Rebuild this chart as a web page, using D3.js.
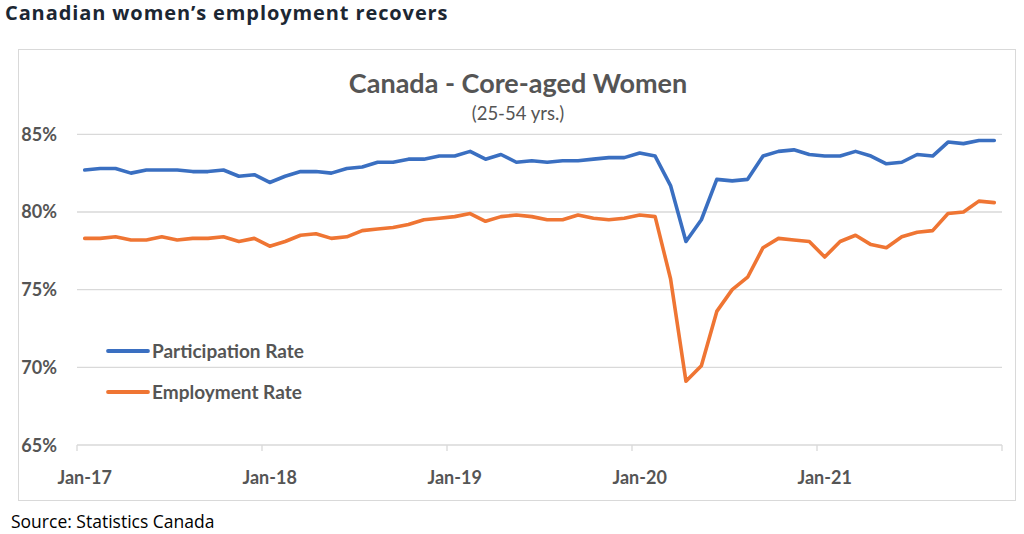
<!DOCTYPE html>
<html><head><meta charset="utf-8">
<script src="https://cdn.jsdelivr.net/npm/d3@7"></script>
<style>body{margin:0;background:#fff}svg{display:block}</style>
</head><body>
<script>
const months = [];
const years = ["17","18","19","20","21"];
const monthNames = ["Jan","Feb","Mar","Apr","May","Jun","Jul","Aug","Sep","Oct","Nov","Dec"];
years.forEach(y => monthNames.forEach(m => months.push(m + "-" + y)));

const participation = [
 82.7,82.8,82.8,82.5,82.7,82.7,82.7,82.6,82.6,82.7,82.3,82.4,
 81.9,82.3,82.6,82.6,82.5,82.8,82.9,83.2,83.2,83.4,83.4,83.6,
 83.6,83.9,83.4,83.7,83.2,83.3,83.2,83.3,83.3,83.4,83.5,83.5,
 83.8,83.6,81.7,78.1,79.5,82.1,82.0,82.1,83.6,83.9,84.0,83.7,
 83.6,83.6,83.9,83.6,83.1,83.2,83.7,83.6,84.5,84.4,84.6,84.6];
const employment = [
 78.3,78.3,78.4,78.2,78.2,78.4,78.2,78.3,78.3,78.4,78.1,78.3,
 77.8,78.1,78.5,78.6,78.3,78.4,78.8,78.9,79.0,79.2,79.5,79.6,
 79.7,79.9,79.4,79.7,79.8,79.7,79.5,79.5,79.8,79.6,79.5,79.6,
 79.8,79.7,75.7,69.1,70.1,73.6,75.0,75.8,77.7,78.3,78.2,78.1,
 77.1,78.1,78.5,77.9,77.7,78.4,78.7,78.8,79.9,80.0,80.7,80.6];
const yTicks = [65,70,75,80,85];
const xTickLabels = ["Jan-17","Jan-18","Jan-19","Jan-20","Jan-21"];
const seriesNames = ["Participation Rate","Employment Rate"];
const colors = ["#3a6fc1","#ef7533"];

const W=1024,H=534;
const svg = d3.select("body").append("svg").attr("width",W).attr("height",H);
const font = "Lato, 'Open Sans', sans-serif";
const gray = "#555555";

svg.append("text").attr("x",5).attr("y",20).attr("font-family","'Open Sans', sans-serif")
  .attr("font-weight",700).attr("font-size",20).attr("fill","#1c2733").attr("letter-spacing",0.9)
  .text("Canadian women’s employment recovers");

svg.append("rect").attr("x",18.5).attr("y",49.5).attr("width",997).attr("height",451)
  .attr("fill","#fff").attr("stroke","#d9d9d9").attr("stroke-width",1);

svg.append("text").attr("x",11).attr("y",528).attr("font-family","'Open Sans', sans-serif")
  .attr("font-size",17.5).attr("fill","#000").text("Source: Statistics Canada");

const x = d3.scaleBand().domain(months).range([77,1002]).paddingInner(0).paddingOuter(0);
const y = d3.scaleLinear().domain([65,85]).range([445,134.3]);

// gridlines
svg.append("g").selectAll("line").data(yTicks.filter(t=>t>65)).join("line")
  .attr("x1",77).attr("x2",1002).attr("y1",d=>y(d)).attr("y2",d=>y(d))
  .attr("stroke","#d9d9d9").attr("stroke-width",1.3);

// y labels
svg.append("g").selectAll("text").data(yTicks).join("text")
  .attr("x",57).attr("y",d=>y(d)+6.5).attr("text-anchor","end")
  .attr("font-family",font).attr("font-weight",700).attr("font-size",18).attr("fill",gray)
  .text(d=>d+"%");

// x axis line + ticks
svg.append("line").attr("x1",77).attr("x2",1002).attr("y1",y(65)).attr("y2",y(65))
  .attr("stroke","#d9d9d9").attr("stroke-width",1.3);
const tickIdx = d3.range(0,61,12);
svg.append("g").selectAll("line").data(tickIdx).join("line")
  .attr("x1",i=> i<60 ? x(months[i]) : x(months[59])+x.bandwidth())
  .attr("x2",i=> i<60 ? x(months[i]) : x(months[59])+x.bandwidth())
  .attr("y1",y(65)).attr("y2",y(65)+6).attr("stroke","#d9d9d9").attr("stroke-width",1.3);
svg.append("g").selectAll("text").data(xTickLabels).join("text")
  .attr("x",d=>x(d)+x.bandwidth()/2).attr("y",484).attr("text-anchor","middle")
  .attr("font-family",font).attr("font-weight",700).attr("font-size",18).attr("fill",gray)
  .text(d=>d);

// titles
svg.append("text").attr("x",518).attr("y",93).attr("text-anchor","middle")
  .attr("font-family",font).attr("font-weight",700).attr("font-size",27).attr("fill",gray)
  .text("Canada - Core-aged Women");
svg.append("text").attr("x",518).attr("y",120).attr("text-anchor","middle")
  .attr("font-family",font).attr("font-size",18.5).attr("fill",gray)
  .text("(25-54 yrs.)");

// lines
const line = d3.line().x((d,i)=>x(months[i])+x.bandwidth()/2).y(d=>y(d));
[participation, employment].forEach((s,k)=>{
  svg.append("path").datum(s).attr("d",line).attr("fill","none")
    .attr("stroke",colors[k]).attr("stroke-width",3.6).attr("stroke-linejoin","round").attr("stroke-linecap","round");
});

// legend
const legY = [351,392];
seriesNames.forEach((n,k)=>{
  svg.append("line").attr("x1",108).attr("x2",148).attr("y1",legY[k]).attr("y2",legY[k])
    .attr("stroke",colors[k]).attr("stroke-width",3.8).attr("stroke-linecap","round");
  svg.append("text").attr("x",152).attr("y",legY[k]+6.5).attr("font-family",font)
    .attr("font-weight",700).attr("font-size",19).attr("fill",gray).text(n);
});
</script>
</body></html>
